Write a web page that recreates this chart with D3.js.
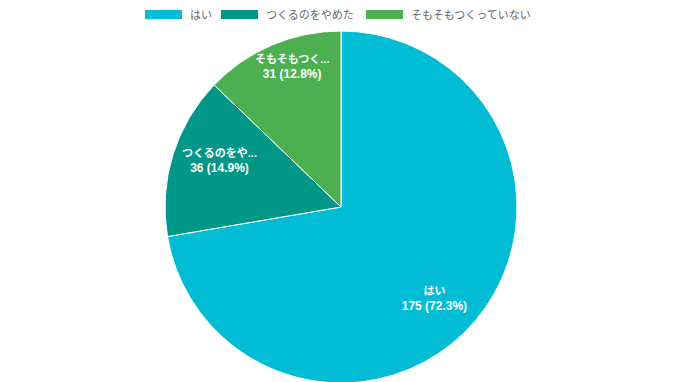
<!DOCTYPE html>
<html>
<head>
<meta charset="utf-8">
<script src="https://cdn.jsdelivr.net/npm/d3@7"></script>
<style>
  body { margin: 0; background: #fff; }
  text { font-family: "Liberation Sans", "Noto Sans CJK JP", sans-serif; }
</style>
</head>
<body>
<script>
    const categories = ['はい', 'つくるのをやめた', 'そもそもつくっていない'];
    const shortLabels = ['はい', 'つくるのをや...', 'そもそもつく...'];
    const counts = [175, 36, 31];
    const colors = ['#00bcd4', '#009688', '#4caf50'];

    const chart_width = 680;
    const chart_height = 382;

    const svg = d3.select('body').append('svg')
        .attr('width', chart_width).attr('height', chart_height);

    const cx = 341, cy = 207, radius = 176;
    const total = d3.sum(counts);

    const color = d3.scaleOrdinal().domain(categories).range(colors);

    const pie = d3.pie().sort(null).value(d => d.value);
    const data = categories.map((c, i) => ({name: c, short: shortLabels[i], value: counts[i]}));
    const arcs = pie(data);

    const arc = d3.arc().innerRadius(0).outerRadius(radius);

    const g = svg.append('g').attr('transform', `translate(${cx},${cy})`);

    g.selectAll('path')
        .data(arcs)
        .enter()
        .append('path')
          .attr('d', arc)
          .attr('fill', d => color(d.data.name))
          .attr('stroke', '#fff')
          .attr('stroke-width', 1);

    // labels: narrow slices get pushed outward a bit
    const labelR = d => (d.endAngle - d.startAngle) < 0.9 ? radius * 0.85 : radius * 0.74;
    const labels = g.selectAll('g.lbl')
        .data(arcs)
        .enter()
        .append('g')
          .attr('class', 'lbl')
          .attr('transform', d => {
            const a = (d.startAngle + d.endAngle) / 2 + 0.07;
            const r = labelR(d);
            return `translate(${Math.sin(a) * r},${-Math.cos(a) * r})`;
          });
    labels.append('text')
        .attr('text-anchor', 'middle')
        .attr('y', -3)
        .attr('fill', '#fff')
        .attr('font-size', 11)
        .attr('font-weight', 'bold')
        .text(d => d.data.short);
    labels.append('text')
        .attr('text-anchor', 'middle')
        .attr('y', 12)
        .attr('fill', '#fff')
        .attr('font-size', 12)
        .attr('font-weight', 'bold')
        .text(d => `${d.data.value} (${(d.data.value / total * 100).toFixed(1)}%)`);

    // legend
    const legendX = [145, 221, 366];
    const legend = svg.append('g');
    const items = legend.selectAll('g')
        .data(categories)
        .enter()
        .append('g')
          .attr('transform', (d, i) => `translate(${legendX[i]},10)`);
    items.append('rect')
        .attr('width', 37).attr('height', 9)
        .attr('fill', d => color(d));
    items.append('text')
        .attr('x', 45).attr('y', 9)
        .attr('font-size', 11)
        .attr('fill', '#666')
        .text(d => d);
</script>
</body>
</html>
